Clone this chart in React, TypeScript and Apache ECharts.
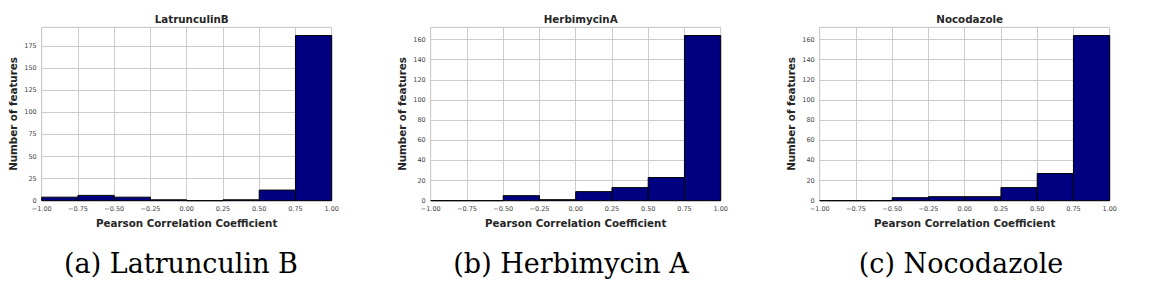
import React, { useEffect, useRef } from "react";
import * as echarts from "echarts";

const binEdges = [-1, -0.75, -0.5, -0.25, 0, 0.25, 0.5, 0.75, 1];
const titles = ["LatrunculinB", "HerbimycinA", "Nocodazole"];
const captions = ["(a) Latrunculin B", "(b) Herbimycin A", "(c) Nocodazole"];
const latrunculinCounts = [4, 6, 4, 1, 0, 1, 12, 187];
const herbimycinCounts = [0, 0, 5, 1, 9, 13, 23, 164];
const nocodazoleCounts = [0, 0, 3, 4, 4, 13, 27, 164];
const yIntervals = [25, 20, 20];

const allCounts = [latrunculinCounts, herbimycinCounts, nocodazoleCounts];

const gridLefts = [41.7, 430.7, 819.7];
const gridWidth = 290;
const gridTop = 27.3;
const gridHeight = 173.4;

export default function App() {
  const ref = useRef<HTMLDivElement>(null);
  useEffect(() => {
    if (!ref.current) return;
    const chart = echarts.init(ref.current, null, { renderer: "svg" });
    const font = "DejaVu Sans";
    const grids: any[] = [];
    const xAxes: any[] = [];
    const yAxes: any[] = [];
    const series: any[] = [];
    const titleOpts: any[] = [];
    allCounts.forEach((counts, i) => {
      const maxV = Math.max(...counts) * 1.05;
      grids.push({
        left: gridLefts[i],
        top: gridTop,
        width: gridWidth,
        height: gridHeight,
        show: true,
        borderColor: "#cccccc",
        borderWidth: 1,
        backgroundColor: "#ffffff",
      });
      xAxes.push({
        type: "value",
        gridIndex: i,
        min: -1,
        max: 1,
        interval: 0.25,
        name: "Pearson Correlation Coefficient",
        nameLocation: "middle",
        nameGap: 15,
        nameTextStyle: { fontFamily: font, fontWeight: "bold", fontSize: 10.3, color: "#262626" },
        axisLine: { show: false },
        axisTick: { show: false },
        axisLabel: {
          fontFamily: font,
          fontSize: 6.5,
          color: "#444444",
          margin: 5,
          formatter: (v: number) => (v < 0 ? "\u2212" + Math.abs(v).toFixed(2) : v.toFixed(2)),
        },
        splitLine: { show: true, lineStyle: { color: "#cccccc", width: 1 } },
      });
      yAxes.push({
        type: "value",
        gridIndex: i,
        min: 0,
        max: maxV,
        interval: yIntervals[i],
        name: "Number of features",
        nameLocation: "middle",
        nameGap: 23.5,
        nameTextStyle: { fontFamily: font, fontWeight: "bold", fontSize: 10.3, color: "#262626" },
        axisLine: { show: false },
        axisTick: { show: false },
        axisLabel: {
          fontFamily: font,
          fontSize: 6.5,
          color: "#444444",
          margin: 5,
          showMaxLabel: false,
          formatter: (v: number) => (Math.abs(v % yIntervals[i]) < 1e-6 ? String(v) : ""),
        },
        splitLine: { show: true, lineStyle: { color: "#cccccc", width: 1 } },
      });
      const data = counts.map((c, k) => [binEdges[k], binEdges[k + 1], c]);
      series.push({
        type: "custom",
        xAxisIndex: i,
        yAxisIndex: i,
        data,
        renderItem: (params: any, api: any) => {
          const p0 = api.coord([api.value(0), api.value(2)]);
          const p1 = api.coord([api.value(1), 0]);
          return {
            type: "rect",
            shape: { x: p0[0], y: p0[1], width: p1[0] - p0[0], height: p1[1] - p0[1] },
            style: { fill: "#000080", stroke: "#000000", lineWidth: 1 },
          };
        },
      });
      titleOpts.push({
        text: titles[i],
        left: gridLefts[i] + gridWidth / 2,
        top: 9,
        textAlign: "center",
        textStyle: { fontFamily: font, fontWeight: "bold", fontSize: 10.3, color: "#262626" },
      });
    });
    const centers = [181, 571, 961];
    const graphics = captions.map((c, i) => ({
      type: "text",
      x: centers[i],
      y: 263,
      style: {
        text: c,
        fontFamily: "DejaVu Serif",
        fontSize: 27,
        fill: "#000000",
        textAlign: "center",
        textVerticalAlign: "middle",
      },
    }));
    chart.setOption({
      animation: false,
      backgroundColor: "#ffffff",
      title: titleOpts,
      grid: grids,
      xAxis: xAxes,
      yAxis: yAxes,
      series,
      graphic: graphics,
    });
    return () => chart.dispose();
  }, []);
  return (
    <div
      ref={ref}
      style={{ position: "fixed", left: 0, top: 0, width: 1152, height: 297, background: "#fff" }}
    />
  );
}
